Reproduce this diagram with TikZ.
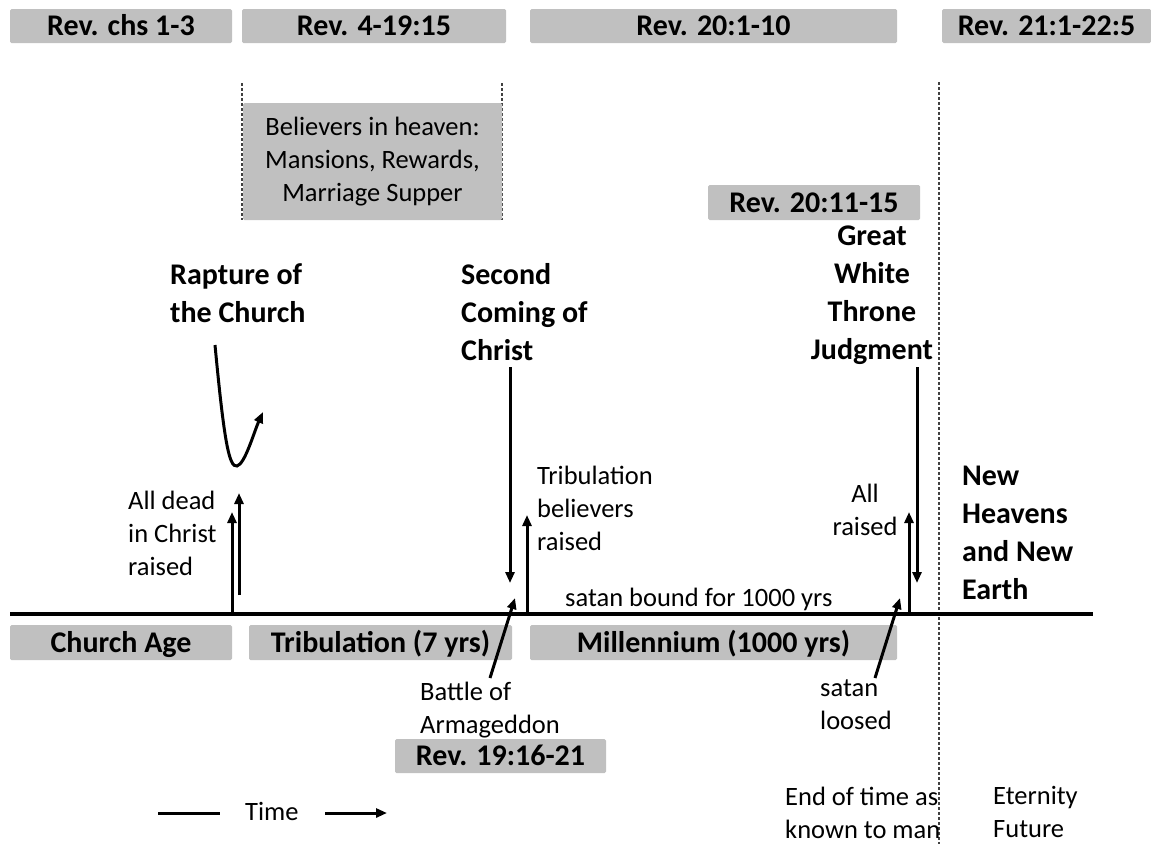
\documentclass[tikz,border=0pt]{standalone}
\usepackage{fontspec}
\setmainfont{Carlito}
\usetikzlibrary{arrows.meta}
\definecolor{boxgrey}{RGB}{192,192,192}

\begin{document}
\begin{tikzpicture}[x=1pt,y=-1pt,
  refbox/.style={fill=boxgrey, rounded corners=1.5pt, inner sep=0pt,
    text height=21pt, text depth=2pt,
    font=\bfseries\fontsize{30}{38}\selectfont},
  headtext/.style={inner sep=0pt, align=left, font=\bfseries\fontsize{30}{38}\selectfont},
  bodytext/.style={inner sep=0pt, align=left, font=\fontsize{26.5}{33}\selectfont},
  evarrow/.style={line width=3pt, -{Triangle[length=11pt,width=9pt]}},
  sepline/.style={line width=1.2pt, black!75, dash pattern=on 3pt off 2pt}]
\useasboundingbox (0,0) rectangle (1151,844);

% chapter boxes along the top
\node[refbox, minimum width=222, minimum height=34] (rev13) at (121,26) {Rev. chs 1-3};
\node[refbox, minimum width=264, minimum height=34] (rev419) at (374,26) {Rev. 4-19:15};
\node[refbox, minimum width=367, minimum height=34] (rev2010) at (713.5,26) {Rev. 20:1-10};
\node[refbox, minimum width=209, minimum height=34] (rev2122) at (1046.5,26) {Rev. 21:1-22:5};

% heaven during the tribulation
\draw[sepline] (242,83) -- (242,220);
\draw[sepline] (502,83) -- (502,220);
\node[fill=boxgrey, rounded corners=1.5pt, inner sep=0pt, minimum width=259, minimum height=117,
  align=center, font=\fontsize{26.5}{33}\selectfont] (heaven) at (372.5,161.5)
  {Believers in heaven:\\Mansions, Rewards,\\Marriage Supper};
\node[refbox, minimum width=212, minimum height=35] (rev201115) at (814,202.5) {Rev. 20:11-15};

% end of time
\draw[sepline] (939,82) -- (939,844);

% the time line
\coordinate (tlstart) at (10,614);
\coordinate (tlend) at (1093,614);
\draw[line width=4pt] (tlstart) -- (tlend);

\node[refbox, minimum width=222, minimum height=35] (churchage) at (121,642.5) {Church Age};
\node[refbox, minimum width=263, minimum height=35] (tribulation) at (380.5,642.5) {Tribulation (7 yrs)};
\node[refbox, minimum width=367, minimum height=35] (millennium) at (713.5,642.5) {Millennium (1000 yrs)};
\node[refbox, minimum width=211, minimum height=34] (rev191621) at (500.5,756) {Rev. 19:16-21};

% events (base = last line)
\node[headtext, anchor=base west] (rapture) at (170,322) {Rapture of\\the Church};
\node[headtext, anchor=base west] (second) at (461,360) {Second\\Coming of\\Christ};
\node[headtext, align=center, anchor=base] (gwtj) at (872,359) {Great\\White\\Throne\\Judgment};
\node[headtext, anchor=base west] (newheaven) at (962,599) {New\\Heavens\\and New\\Earth};

\node[bodytext, anchor=base west] (deadraised) at (128,575) {All dead\\in Christ\\raised};
\node[bodytext, anchor=base west] (tribraised) at (537,550) {Tribulation\\believers\\raised};
\node[bodytext, anchor=base west] (satanbound) at (565,606) {satan bound for 1000 yrs};
\node[bodytext, align=center, anchor=base] (allraised) at (865,535) {All\\raised};
\node[bodytext, anchor=base west] (battle) at (420,733) {Battle of\\Armageddon};
\node[bodytext, anchor=base west] (loosed) at (820,729) {satan\\loosed};
\node[bodytext, anchor=base west] (endtime) at (785,838) {End of time as\\known to man};
\node[bodytext, anchor=base west] (eternity) at (993,837) {Eternity\\Future};
\node[bodytext, anchor=base west] (time) at (245,820) {Time};

% rapture
\coordinate (rap1) at (215,345);
\coordinate (rap2) at (263,412);
\draw[evarrow] (rap1) .. controls (224,440) and (229,468) .. (237,466)
  .. controls (245,464) and (254,432) .. (rap2);
\coordinate (dead1a) at (232,614);
\coordinate (dead1b) at (232,512);
\coordinate (dead2a) at (239,595);
\coordinate (dead2b) at (239,493);
\draw[evarrow] (dead1a) -- (dead1b);
\draw[evarrow] (dead2a) -- (dead2b);

% second coming
\coordinate (sc1) at (510,367);
\coordinate (sc2) at (510,583);
\draw[evarrow] (sc1) -- (sc2);
\coordinate (battle1) at (490,678);
\coordinate (battle2) at (515,598);
\draw[evarrow] (battle1) -- (battle2);
\coordinate (trib1) at (527,614);
\coordinate (trib2) at (527,515);
\draw[evarrow] (trib1) -- (trib2);

% white throne
\coordinate (gw1) at (917,367);
\coordinate (gw2) at (917,583);
\draw[evarrow] (gw1) -- (gw2);
\coordinate (all1) at (909,614);
\coordinate (all2) at (909,512);
\draw[evarrow] (all1) -- (all2);
\coordinate (loose1) at (875,678);
\coordinate (loose2) at (900,598);
\draw[evarrow] (loose1) -- (loose2);

% time arrow
\coordinate (time1) at (158,813);
\coordinate (time2) at (220,813);
\coordinate (time3) at (325,813);
\coordinate (time4) at (387,813);
\draw[line width=3pt] (time1) -- (time2);
\draw[evarrow] (time3) -- (time4);
\end{tikzpicture}
\end{document}
